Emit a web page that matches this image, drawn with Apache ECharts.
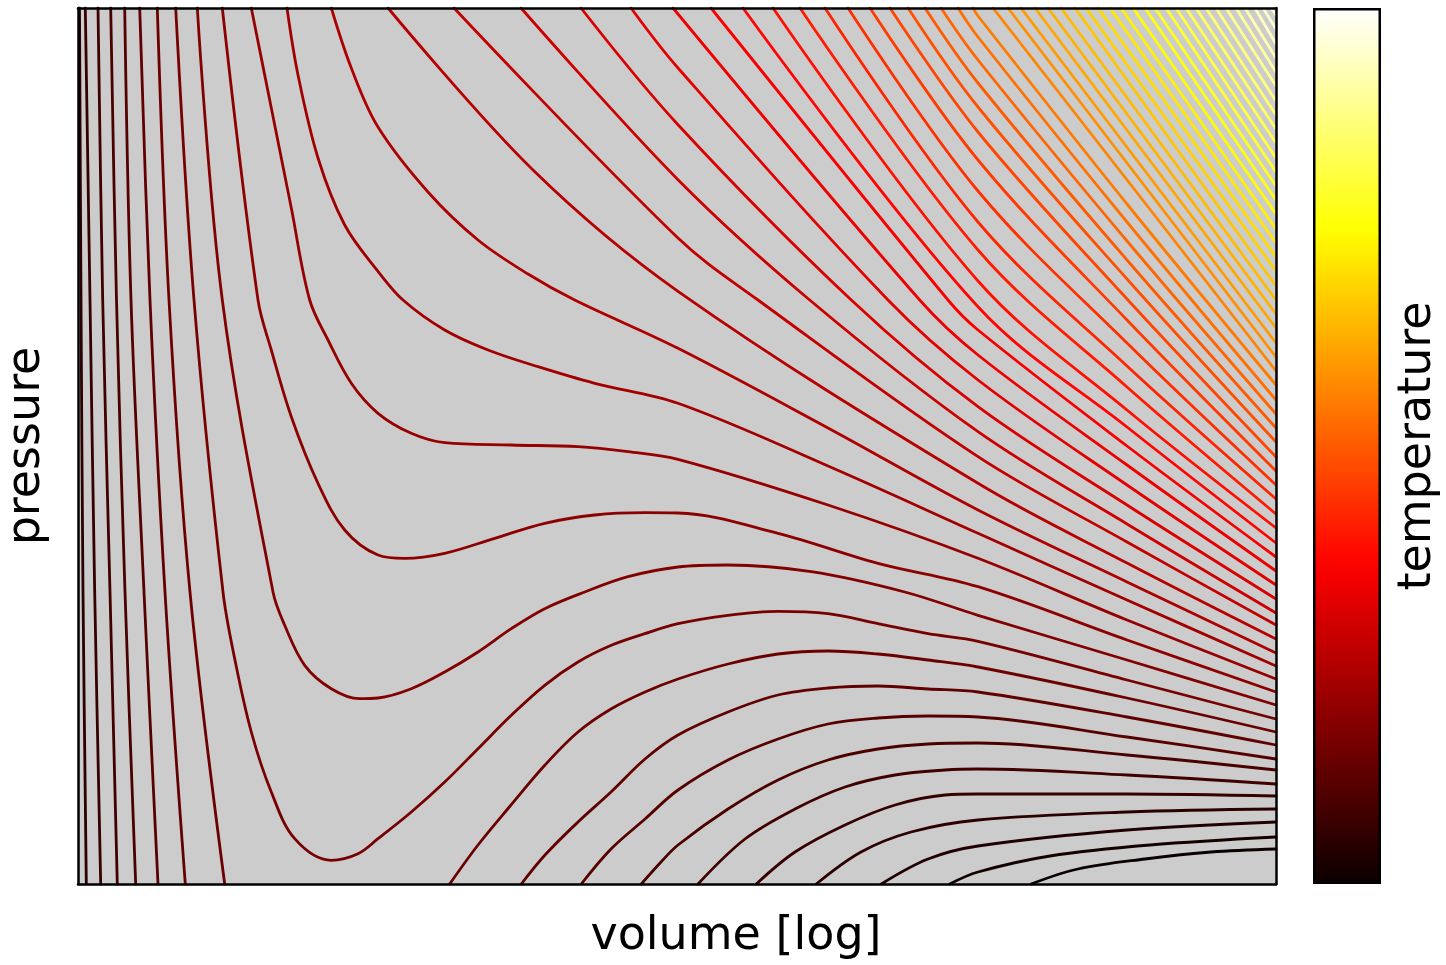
<!DOCTYPE html>
<html><head><meta charset="utf-8">
<script src="https://cdn.jsdelivr.net/npm/echarts@6/dist/echarts.min.js"></script>
<style>html,body{margin:0;padding:0;background:#fff}#c{width:1446px;height:965px}</style>
</head><body><div id="c"></div>
<script>
// Values.
// x: position along the (log) volume axis, 0..1198 units across the frame
// y: pressure, 0..876 units from the bottom to the top of the frame
// isoNN = isotherm of contour level NN (NN = temperature level index), "L" = left branch
const iso00 = [[953,0],[1000,15],[1067,25],[1133,32],[1198,35]];
const iso01 = [[871.7,0],[900,12],[972,28],[1072,39],[1198,47]];
const iso02 = [[803.3,0],[850,25],[900,38],[1049,54],[1198,62]];
const iso03 = [[738.3,0],[783,32],[833,52],[900,64],[1049,72],[1198,75]];
const iso03L = [[1.5,876],[3,584],[5,292],[8.3,0]];
const iso04 = [[678.3,0],[717,32],[767,59],[817,79],[867,89],[900,90],[1049,90],[1198,88]];
const iso04L = [[7.3,876],[12,584],[16.7,292],[22.7,0]];
const iso05 = [[620,0],[667,45],[717,75],[767,97],[817,109],[867,114],[900,115],[1049,109],[1198,100]];
const iso05L = [[20,876],[24.7,584],[32,292],[39.3,0]];
const iso06 = [[563.3,0],[583,22],[600,39],[650,75],[700,104],[750,124],[800,135],[850,140],[900,141],[1049,129],[1198,114]];
const iso06L = [[32.7,876],[38.5,584],[47,292],[57.7,0]];
const iso07 = [[503.3,0],[533,35],[567,65],[600,94],[650,124],[700,145],[750,160],[800,166],[850,168],[900,167],[1049,147],[1198,125]];
const iso07L = [[46.7,876],[53,584],[66,292],[80,0]];
const iso08 = [[443.3,0],[467,29],[500,62],[533,92],[567,125],[600,149],[650,172],[700,189],[750,196],[800,198],[850,195],[900,192],[1049,167],[1198,139]];
const iso08L = [[61.7,876],[72,584],[87,292],[107.3,0]];
const iso09 = [[371.7,0],[400,39],[433,79],[467,119],[500,152],[533,175],[567,192],[600,205],[650,220],[700,230],[750,233],[800,230],[850,224],[900,217],[1049,186],[1198,152]];
const iso09L = [[79.3,876],[91,584],[112,292],[146.7,0]];
const iso10 = [[97.7,876],[116,584],[145,292],[156.7,225.3],[173.3,152],[193.3,92],[216.7,45.3],[253.3,23.7],[280,30.3],[300,45.3],[333.3,72],[366.7,102],[400,135.3],[433.3,168.7],[466.7,198.7],[500,222],[533.3,238.7],[566.7,250.3],[600,260.3],[650,268.7],[700,272.7],[750,270.3],[800,260.3],[850,250.3],[900,242.7],[1049,204],[1198,165]];
const iso11 = [[119.3,876],[144.3,584],[195,292],[206.7,258.7],[226.7,218.7],[253.3,195.3],[281.7,185.3],[300,186],[333.3,195.3],[366.7,212],[400,232],[433.3,255.3],[466.7,275.3],[506.7,292],[550,307.3],[600,317],[650,319],[733.3,312.3],[826.7,292],[900,268.7],[1049,224],[1198,179]];
const iso12 = [[144.3,876],[180,584],[193.3,534],[213.3,467.3],[240,400.7],[266.7,354],[300,329],[326.7,325.7],[366.7,330.7],[416.7,345.7],[466.7,360.7],[516.7,369],[566.7,371.3],[600,371],[700,350.7],[800,320.7],[900,297.3],[1049,244],[1198,192]];
const iso13 = [[173.3,876],[193.3,776],[213.3,676],[231.7,584],[250,544],[273.3,500.7],[300,470.7],[333.3,450.7],[366.7,441.3],[433.3,439],[500,437.3],[550,432.3],[600,424.7],[750,379],[900,325.7],[1049,264],[1198,205]];
const iso14 = [[209,876],[220,809],[240,726],[266.7,659],[300,612.7],[325,584],[366.7,554],[410,534],[460,517.3],[516.7,500.7],[600,480.7],[750,418],[900,350.7],[1049,284],[1198,218]];
const iso15 = [[253.3,876],[273.3,816],[300,757],[350,692],[400,644],[450,610],[496.7,584],[600,535.7],[750,456],[900,374],[1049,302],[1198,231]];
const iso16 = [[310,876],[455,714],[600,592.7],[900,400.7],[1049,321],[1198,245]];
const iso17 = [[376,876],[600,646],[680,584],[900,427.3],[1049,342],[1198,259]];
const iso18 = [[443,876],[600,704.3],[731.7,584],[900,452.3],[1049,360],[1198,271]];
const iso19 = [[503,876],[600,759.3],[773.3,584],[900,477.3],[1049,379],[1198,285]];
const iso20 = [[553,876],[600,816],[810,584],[900,504],[1049,399],[1198,299]];
const iso21 = [[595,876],[841.7,584],[900,529],[1049,419],[1198,313]];
const iso22 = [[633,876],[870,584],[900,554],[1049,438],[1198,327]];
const iso23 = [[665,876],[900,577.3],[1049,457],[1198,341]];
const iso24 = [[695,876],[900,603],[1049,474],[1198,356]];
const iso25 = [[722,876],[900,634],[1049,497],[1198,370]];
const iso26 = [[747,876],[900,662],[1049,518],[1198,385]];
const iso27 = [[770,876],[900,693],[1049,541],[1198,399]];
const iso28 = [[792,876],[900,724],[1049,564],[1198,413]];
const iso29 = [[812,876],[900,752],[1049,585],[1198,427]];
const iso30 = [[830,876],[900,777],[1049,605],[1198,442]];
const iso31 = [[847,876],[900,801],[1049,624],[1198,456]];
const iso32 = [[863,876],[900,824],[1049,643],[1198,470]];
const iso33 = [[880,876],[900,847],[1049,662],[1198,484]];
const iso34 = [[895,876],[900,868],[1049,680],[1198,499]];
// hottest isotherms (levels 35..60): where each one leaves the top edge (x) and the right edge (y)
const hotTopX = [915,930,943,957,970,983,997,1008,1020,1032,1043,1055,1067,1077,1088,1098,1108,1118,1128,1138,1148,1158,1167,1177,1185,1193];
const hotRightY = [513,527,541,556,570,584,598,613,627,641,655,670,684,698,712,726,741,755,769,783,798,812,826,840,855,869];
const FIRST_HOT_LEVEL = 35;
const LEVEL_COUNT = 62;
const X_MAX = 1198, Y_MAX = 876;

const curves = [
  [0, iso00],[1, iso01],[2, iso02],[3, iso03],[3, iso03L],[4, iso04],[4, iso04L],
  [5, iso05],[5, iso05L],[6, iso06],[6, iso06L],[7, iso07],[7, iso07L],
  [8, iso08],[8, iso08L],[9, iso09],[9, iso09L],[10, iso10],[11, iso11],[12, iso12],
  [13, iso13],[14, iso14],[15, iso15],[16, iso16],[17, iso17],[18, iso18],[19, iso19],
  [20, iso20],[21, iso21],[22, iso22],[23, iso23],[24, iso24],[25, iso25],[26, iso26],
  [27, iso27],[28, iso28],[29, iso29],[30, iso30],[31, iso31],[32, iso32],[33, iso33],[34, iso34]
];
hotTopX.forEach((x, i) => curves.push([FIRST_HOT_LEVEL + i, [[x, Y_MAX], [X_MAX, hotRightY[i]]]]));

// matplotlib "hot" colormap
function hot(t) {
  t = Math.max(0, Math.min(1, t));
  const r = t < 0.365079 ? 0.0416 + (1 - 0.0416) * t / 0.365079 : 1;
  const g = t < 0.365079 ? 0 : (t < 0.746032 ? (t - 0.365079) / (0.746032 - 0.365079) : 1);
  const b = t < 0.746032 ? 0 : (t - 0.746032) / (1 - 0.746032);
  return 'rgb(' + Math.round(r * 255) + ',' + Math.round(g * 255) + ',' + Math.round(b * 255) + ')';
}

const chart = echarts.init(document.getElementById('c'), null, {renderer: 'canvas'});
const FONT = 'DejaVu Sans';
const frameLine = {show: true, onZero: false, lineStyle: {color: '#000', width: 2.5}};
const hidden = {axisTick: {show: false}, axisLabel: {show: false}, splitLine: {show: false}};

const series = curves.map(([lvl, pts]) => ({
  type: 'line', xAxisIndex: 0, yAxisIndex: 0, data: pts, smooth: 0.35,
  showSymbol: false, symbol: 'none', silent: true, clip: true, z: 2,
  lineStyle: {width: 2.8, color: hot(lvl / LEVEL_COUNT), cap: 'round', join: 'round'}
}));

const stops = [];
for (let i = 0; i <= 40; i++) stops.push({offset: i / 40, color: hot(i / 40)});
series.push({
  type: 'bar', xAxisIndex: 2, yAxisIndex: 2, data: [1], barWidth: '100%', silent: true,
  itemStyle: {color: new echarts.graphic.LinearGradient(0, 1, 0, 0, stops), borderColor: '#000', borderWidth: 2.5}
});

chart.setOption({
  animation: false,
  backgroundColor: '#fff',
  grid: [
    {left: 78, top: 8, width: 1198, height: 876, show: true, backgroundColor: '#cccccc', borderWidth: 0, containLabel: false, outerBoundsMode: 'none'},
    {left: 1313, top: 8, width: 68, height: 876, show: false, containLabel: false, outerBoundsMode: 'none'}
  ],
  xAxis: [
    Object.assign({type: 'value', gridIndex: 0, min: 0, max: X_MAX, position: 'bottom', axisLine: frameLine, z: 10,
      name: 'volume [log]', nameLocation: 'middle', nameGap: 30,
      nameTextStyle: {fontFamily: FONT, fontSize: 46, color: '#000', padding: [0, 0, 0, 118]}}, hidden),
    Object.assign({type: 'value', gridIndex: 0, min: 0, max: X_MAX, position: 'top', axisLine: frameLine, z: 10}, hidden),
    {type: 'category', gridIndex: 1, data: ['T'], show: false}
  ],
  yAxis: [
    Object.assign({type: 'value', gridIndex: 0, min: 0, max: Y_MAX, position: 'left', axisLine: frameLine, z: 10,
      name: 'pressure', nameLocation: 'middle', nameRotate: 90, nameGap: 28,
      nameTextStyle: {fontFamily: FONT, fontSize: 46, color: '#000'}}, hidden),
    Object.assign({type: 'value', gridIndex: 0, min: 0, max: Y_MAX, position: 'right', axisLine: frameLine, z: 10}, hidden),
    Object.assign({type: 'value', gridIndex: 1, min: 0, max: 1, position: 'right', axisLine: {show: false},
      name: 'temperature', nameLocation: 'middle', nameRotate: 90, nameGap: 14,
      nameTextStyle: {fontFamily: FONT, fontSize: 46, color: '#000'}}, hidden)
  ],
  series: series
});
</script>
</body></html>
